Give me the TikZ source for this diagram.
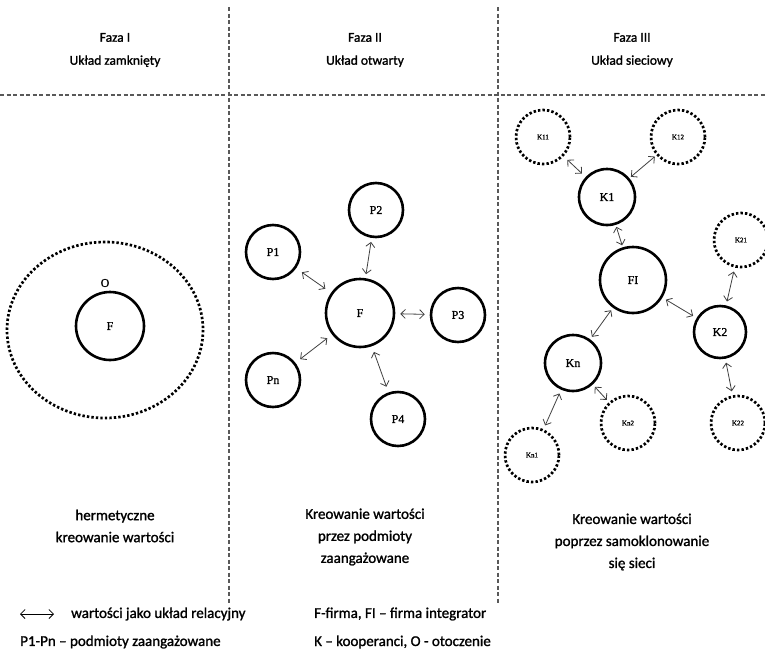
\documentclass[tikz,border=0pt]{standalone}
\usepackage{fontspec}
\setmainfont{Carlito}[BoldFont={Carlito},BoldFeatures={FakeBold=1.3}]
\newfontfamily\circfont{Liberation Serif}[BoldFont={Liberation Serif},BoldFeatures={FakeBold=1.2}]
\usetikzlibrary{arrows.meta}
\begin{document}
\begin{tikzpicture}[x=1pt,y=-1pt]
			\def\kr{54pt}
			\tikzset{k/.style={circle,draw,line width=2.6pt,minimum size=#1,inner sep=0pt,font=\circfont\bfseries\fontsize{12}{14}\selectfont},k/.default=54pt,
				dots/.style={line width=2.7pt,dash pattern=on 2.4pt off 2.1pt},
				kd/.style={circle,draw,dots,minimum size=\kr,inner sep=0pt,font=\circfont\bfseries\fontsize{7}{8}\selectfont},
				rel/.style={gray!50!black,line width=0.8pt,{Straight Barb[length=4.5pt,width=9pt]}-{Straight Barb[length=4.5pt,width=9pt]}},
				div/.style={gray!70!black,line width=1.1pt,dash pattern=on 4pt off 2.5pt},
				t/.style={font=\bfseries\fontsize{15}{22}\selectfont,align=center},
				th/.style={font=\bfseries\fontsize{13.5}{23}\selectfont,align=center}}
			\useasboundingbox(0,0)rectangle(765,659);
			%%Linie podziału
			\draw[div](229,7)--(229,603)(498,7)--(498,603)(0,95)--(765,95);
			\path(115,50)node[th](h1){Faza I\\Układ zamknięty}(365,50)node[th](h2){Faza II\\Układ otwarty}(632,50)node[th](h3){Faza III\\Układ sieciowy};
			%%Faza I
			\draw[dots](105,330)ellipse(98 and 88);
			\path(110,326)node[k=68pt](F0){F}(105,283)node[font=\circfont\bfseries\fontsize{12}{14}\selectfont](O){O};
			%%Faza II
			\path(360,313)node[k=68pt](F){F}(273,252)node[k](P1){P1}(376,210)node[k](P2){P2}(458,315)node[k](P3){P3}(273,380)node[k](Pn){Pn}(398,419)node[k](P4){P4};
			%%Faza III
			\path(633,280)node[k=66pt](FI){FI}(607,197)node[k=56pt](K1){K1}(720,332)node[k=52pt](K2){K2}(573,363)node[k=56pt](Kn){Kn};
			\path(543,137)node[kd](K11){K11}(678,137)node[kd](K12){K12}(741,240)node[kd](K21){K21}(738,423)node[kd](K22){K22}(532,455)node[kd](Kn1){Kn1}(628,423)node[kd](Kn2){Kn2};
			\foreach \x/\y/\s in {
				P1/F/7,P2/F/4,F/P3/5,Pn/F/6,F/P4/6,
				K11/K1/5,K12/K1/2,K1/FI/2,FI/K2/4,Kn/FI/3,
				K21/K2/4,K2/K22/4,Kn/Kn1/4,Kn/Kn2/3}
			\draw[rel,shorten <=\s pt,shorten >=\s pt](\x)--(\y);
			%%Opisy faz
			\path(115,526)node[t](c1){hermetyczne\\kreowanie wartości}(365,537)node[t](c2){Kreowanie wartości\\przez podmioty\\zaangażowane}(632,542)node[t](c3){Kreowanie wartości\\poprzez samoklonowanie\\się sieci};
			%%Legenda
			\coordinate(la)at(20,614);\coordinate(lb)at(54,614);
			\draw[rel,black](la)--(lb);
			\path(71,614)node[t,anchor=west,inner sep=0pt](l1){wartości jako układ relacyjny}(314,614)node[t,anchor=west,inner sep=0pt](l2){F-firma, FI – firma integrator};
			\path(20,642)node[t,anchor=west,inner sep=0pt](l3){P1-Pn – podmioty zaangażowane}(314,642)node[t,anchor=west,inner sep=0pt](l4){K – kooperanci, O - otoczenie};
		\end{tikzpicture}
\end{document}
